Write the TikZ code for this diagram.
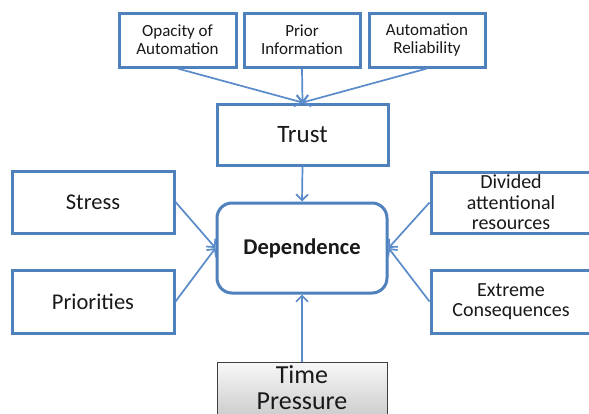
\documentclass[tikz,border=0pt]{standalone}
\usepackage{fontspec}
\setmainfont{Carlito}
\usetikzlibrary{arrows.meta}
\definecolor{boxblue}{HTML}{4F81BD}
\definecolor{arrblue}{HTML}{5A8BCB}
\begin{document}
\begin{tikzpicture}[x=1pt,y=-1pt,
  box/.style={draw=boxblue, line width=3pt, fill=white, inner sep=0pt, align=center, text=black!90},
  small/.style={font=\fontsize{17}{18}\selectfont},
  mid/.style={font=\fontsize{20}{20.5}\selectfont},
  big/.style={font=\fontsize{22.5}{24}\selectfont},
  arr/.style={draw=arrblue, line width=1.7pt, -{Straight Barb[length=6pt,width=12pt]}}]
\clip (0,0) rectangle (589,413);
\fill[white] (0,0) rectangle (589,413);
% top row
\node[box, small, minimum width=117pt, minimum height=54pt] (opa) at (177.5,40) {Opacity of\\Automation};
\node[box, small, minimum width=116pt, minimum height=54pt] (pri) at (302,40) {Prior\\Information};
\node[box, small, minimum width=116pt, minimum height=54pt] (rel) at (427,40) {Automation\\Reliability};
% trust
\node[box, font=\fontsize{25}{27}\selectfont, minimum width=171pt, minimum height=61pt] (trust) at (302.5,134.5) {Trust};
% dependence
\node[box, rounded corners=15pt, font=\fontsize{22.5}{24}\selectfont\bfseries, minimum width=170pt, minimum height=90pt] (dep) at (302,248) {\raisebox{-2pt}{Dependence}};
% left
\node[box, big, minimum width=162pt, minimum height=62pt] (stress) at (93,202) {Stress};
\node[box, big, minimum width=162pt, minimum height=63pt] (prio) at (93,301.5) {Priorities};
% right
\node[box, mid, minimum width=160pt, minimum height=61pt] (div) at (511,202.5) {\rule{0pt}{14pt}Divided\\attentional\\resources};
\node[box, mid, minimum width=160pt, minimum height=63pt] (ext) at (511,301.5) {Extreme\\Consequences};
% time pressure
\node[draw=black!75, line width=0.8pt, top color=gray!6, bottom color=gray!38, inner sep=0pt, align=center, text=black!90,
      font=\fontsize{26}{26}\selectfont, minimum width=170pt, minimum height=52pt] (time) at (302,388) {Time\\Pressure};
% connectors
\draw[arr] (opa.south) -- (trust.north);
\draw[arr] (pri.south) -- (trust.north);
\draw[arr] (rel.south) -- (trust.north);
\draw[arr] (trust.south) -- (dep.north);
\draw[arr] (stress.east) -- (dep.west);
\draw[arr] (prio.east) -- (dep.west);
\draw[arr] (div.west) -- (dep.east);
\draw[arr] (ext.west) -- (dep.east);
\draw[arr] (time.north) -- (dep.south);
\end{tikzpicture}
\end{document}
